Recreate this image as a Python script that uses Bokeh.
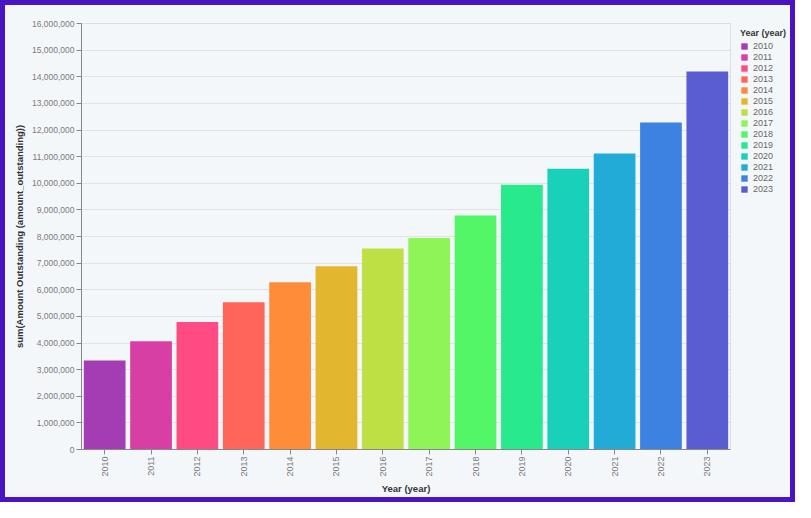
import math
from bokeh.plotting import figure
from bokeh.layouts import row
from bokeh.models import (ColumnDataSource, Range1d, FactorRange, NumeralTickFormatter,
                          SingleIntervalTicker, Legend, LegendItem)
from bokeh.embed import file_html
from bokeh.resources import INLINE

# ---- data ----
years = ["2010", "2011", "2012", "2013", "2014", "2015", "2016",
         "2017", "2018", "2019", "2020", "2021", "2022", "2023"]
amount_outstanding = [3340000, 4070000, 4790000, 5530000, 6280000, 6880000, 7550000,
                      7940000, 8790000, 9940000, 10540000, 11120000, 12280000, 14200000]
y_max = 16000000
y_tick_step = 1000000

# ---- colours: rainbow (cubehelix) scheme sampled like Vega ----
def rainbow(t):
    ts = abs(t - 0.5)
    h = 360 * t - 100
    s = 1.5 - 1.5 * ts
    l = 0.8 - 0.9 * ts
    hr = math.radians(h + 120)
    a = s * l * (1 - l)
    ch, sh = math.cos(hr), math.sin(hr)
    r = 255 * (l + a * (-0.14861 * ch + 1.78277 * sh))
    g = 255 * (l + a * (-0.29227 * ch - 0.90649 * sh))
    b = 255 * (l + a * (1.97294 * ch))
    c = [max(0, min(255, round(v))) for v in (r, g, b)]
    return "#%02x%02x%02x" % tuple(c)

n = len(years)
colors = [rainbow((i + 1) / (n + 1)) for i in range(n)]

source = ColumnDataSource(dict(year=years, amount=amount_outstanding, color=colors))

FONT = "Liberation Sans"
BG = "#f4f7fa"
W, H = 795, 502
MAIN_W = 735
LEG_W = W - MAIN_W

# ---------------- main chart ----------------
p = figure(width=MAIN_W, height=H, output_backend="svg", toolbar_location=None,
           x_range=FactorRange(*years, range_padding=0),
           y_range=Range1d(0, y_max),
           min_border_left=81, min_border_right=5, min_border_top=23, min_border_bottom=53)

p.background_fill_color = BG
p.border_fill_alpha = 0
p.outline_line_color = "#dddddd"

r = p.vbar(x="year", top="amount", width=0.9, fill_color="color", line_color=None, source=source)

p.yaxis.ticker = SingleIntervalTicker(interval=y_tick_step)
p.yaxis.formatter = NumeralTickFormatter(format="0,0")
p.yaxis.axis_label = "sum(Amount Outstanding (amount_outstanding))"

p.xaxis.axis_label = "Year (year)"
p.xaxis.major_label_orientation = math.pi / 2

for ax in (p.xaxis, p.yaxis):
    ax.axis_line_color = "#888888"
    ax.major_tick_line_color = "#888888"
    ax.major_tick_out = 5
    ax.major_tick_in = 0
    ax.minor_tick_line_color = None
    ax.major_label_text_font = FONT
    ax.major_label_text_color = "#7a7a7a"
    ax.major_label_standoff = 2
    ax.axis_label_text_font = FONT
    ax.axis_label_text_font_size = "9.5px"
    ax.axis_label_text_font_style = "bold"
    ax.axis_label_text_color = "#333333"
p.xaxis.major_label_text_font_size = "9px"
p.yaxis.major_label_text_font_size = "8.5px"
p.xaxis.axis_label_standoff = 3
p.yaxis.axis_label_standoff = 4

p.xgrid.grid_line_color = None
p.ygrid.grid_line_color = "#e2e2e6"

# ---------------- legend panel ----------------
lp = figure(width=LEG_W, height=H, output_backend="svg", toolbar_location=None,
            x_range=FactorRange(*years), y_range=Range1d(-2e9, -1e9),
            x_axis_location=None, y_axis_location=None,
            min_border_left=0, min_border_right=0, min_border_top=18, min_border_bottom=0)
lp.background_fill_alpha = 0
lp.border_fill_alpha = 0
lp.outline_line_color = None
lp.grid.grid_line_color = None
# zero-width bars: only their legend swatches are seen
lr = lp.vbar(x="year", top="amount", width=0, fill_color="color", line_color=None, source=source)

items = [LegendItem(label=y, renderers=[lr], index=i) for i, y in enumerate(years)]
legend = Legend(items=items, title="Year (year)", location="top_left",
                orientation="vertical", margin=5, padding=0, spacing=0,
                glyph_width=8, glyph_height=8, label_height=11, label_standoff=5,
                background_fill_alpha=0, border_line_color=None)
legend.title_text_font = FONT
legend.title_text_font_size = "9px"
legend.title_text_font_style = "bold"
legend.title_text_color = "#333333"
legend.title_standoff = 2
legend.label_text_font = FONT
legend.label_text_font_size = "9px"
legend.label_text_color = "#666666"
lp.add_layout(legend)

layout = row(p, lp, spacing=0,
             styles={"background-color": BG, "box-shadow": "inset 0 0 0 5px #4a14c4"})

open("out.html", "w").write(file_html(layout, INLINE))
